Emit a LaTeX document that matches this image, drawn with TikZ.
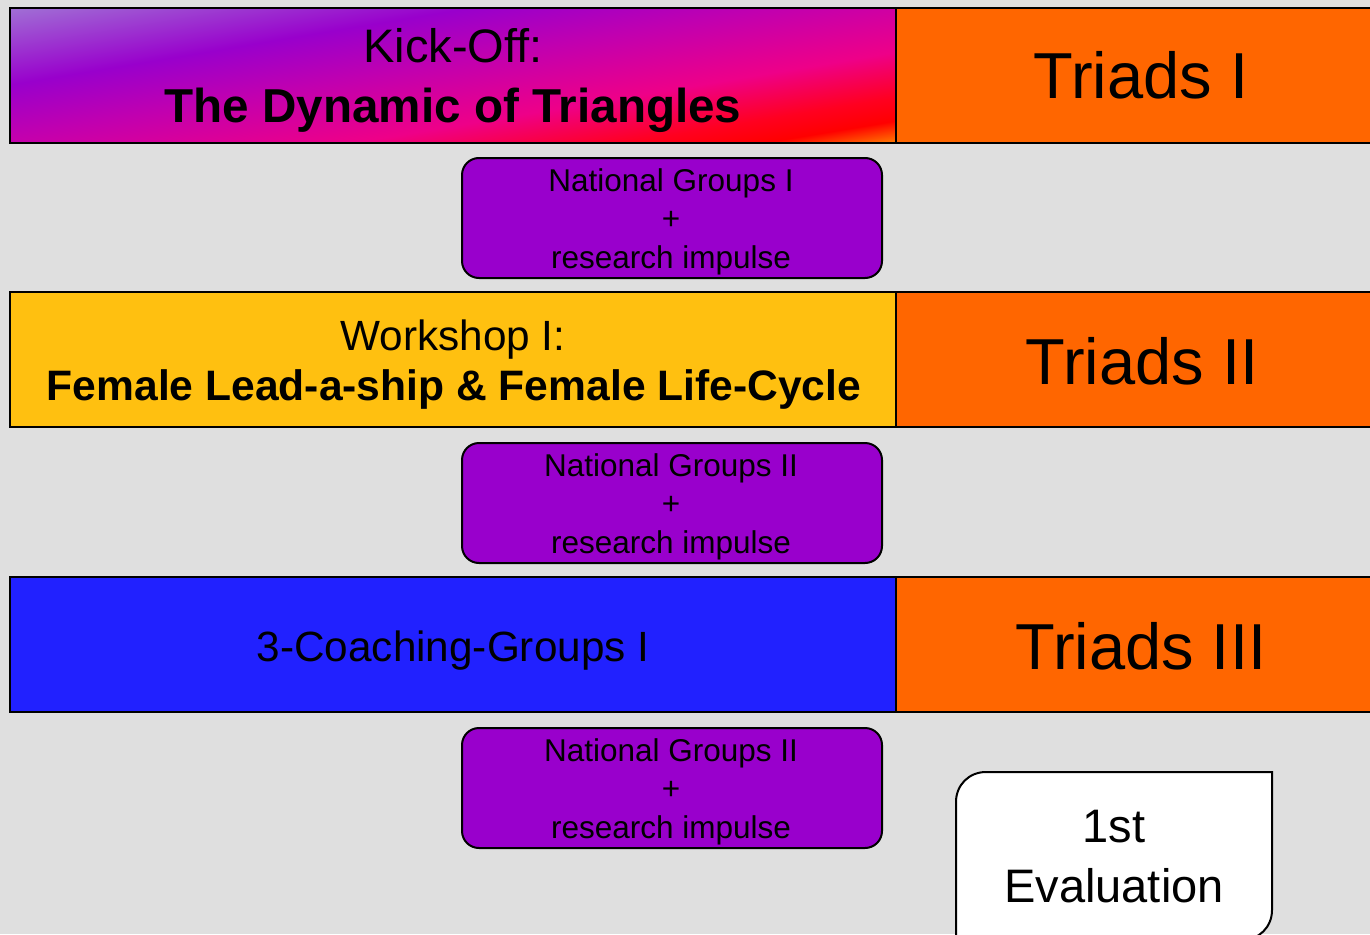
\documentclass[tikz,border=0pt]{standalone}
\usepackage{fontspec}
\setmainfont{Liberation Sans}
\definecolor{bg}{HTML}{DFDFDF}
\definecolor{triorange}{HTML}{FF6600}
\definecolor{wsyellow}{HTML}{FFC010}
\definecolor{cblue}{HTML}{2121FF}
\definecolor{ngpurple}{HTML}{9900CC}
\definecolor{kA}{HTML}{A070D5}
\definecolor{kB}{HTML}{9900CC}
\definecolor{kC}{HTML}{C000B0}
\definecolor{kD}{HTML}{EE0088}
\definecolor{kE}{HTML}{FF0020}
\definecolor{kF}{HTML}{FF0000}
\definecolor{kG}{HTML}{FF8000}
\pgfdeclarehorizontalshading{kickshade}{100bp}{color(0bp)=(kA); color(25bp)=(kA); color(38.56bp)=(kB); color(47.41bp)=(kC); color(58.9bp)=(kD); color(66.86bp)=(kE); color(70.99bp)=(kF); color(75bp)=(kG); color(100bp)=(kG)}
\tikzset{
  band/.style={draw=black, line width=2pt, anchor=north west, inner sep=0pt, outer sep=0pt, minimum height=135pt},
  ngbox/.style={draw=black, line width=2pt, fill=ngpurple, rounded corners=17pt, minimum width=420pt, minimum height=120pt, anchor=north west, inner sep=0pt},
  lbl/.style={anchor=base, inner sep=0pt, text=black},
  fbig/.style={font=\fontsize{47}{47}\selectfont},
  fbigb/.style={font=\fontsize{47.6}{47}\selectfont\bfseries},
  fmid/.style={font=\fontsize{42.3}{42}\selectfont},
  fmidb/.style={font=\fontsize{42.6}{42}\selectfont\bfseries},
  ftri/.style={font=\fontsize{65}{65}\selectfont},
  fng/.style={font=\fontsize{31.5}{31.5}\selectfont},
}
\begin{document}
\begin{tikzpicture}[x=1pt,y=-1pt]
\useasboundingbox (0,0) rectangle (1370,934);
\clip (0,0) rectangle (1370,934);
\fill[bg] (0,0) rectangle (1370,934);

% Row 1: gradient fill of the kick-off band
\begin{scope}
  \clip (10,8) rectangle (896,143);
  \begin{scope}[transform canvas={rotate around={-80.5:(453,75.5)}}]
    \shade[shading=kickshade] (453-140,75.5-450) rectangle (453+140,75.5+450);
  \end{scope}
\end{scope}
\node[band, minimum width=886pt] (kick) at (10,8) {};
\node[band, fill=triorange, minimum width=490pt] (tri1) at (896,8) {};
\node[lbl, fbig] (kickA) at (453,63) {Kick-Off:};
\node[lbl, fbigb] (kickB) at (453,122) {The Dynamic of Triangles};
\node[lbl, ftri] (tri1t) at (1141,99) {Triads I};

% NG 1
\node[ngbox] (ng1) at (461,157) {};
\node[lbl, fng] (ng1a) at (671,191) {National Groups I};
\node[lbl, fng] (ng1b) at (671,229) {+};
\node[lbl, fng] (ng1c) at (671,268) {research impulse};

% Row 2
\node[band, fill=wsyellow, minimum width=886pt] (ws) at (10,292) {};
\node[band, fill=triorange, minimum width=490pt] (tri2) at (896,292) {};
\node[lbl, fmid] (wsA) at (453,350) {Workshop I:};
\node[lbl, fmidb] (wsB) at (454,400) {Female Lead-a-ship \& Female Life-Cycle};
\node[lbl, ftri] (tri2t) at (1142,384) {Triads II};

% NG 2
\node[ngbox] (ng2) at (461,442) {};
\node[lbl, fng] (ng2a) at (671,476) {National Groups II};
\node[lbl, fng] (ng2b) at (671,514) {+};
\node[lbl, fng] (ng2c) at (671,553) {research impulse};

% Row 3
\node[band, fill=cblue, minimum width=886pt] (coach) at (10,577) {};
\node[band, fill=triorange, minimum width=490pt] (tri3) at (896,577) {};
\node[lbl, fmid] (coacht) at (453,661) {3-Coaching-Groups I};
\node[lbl, ftri] (tri3t) at (1141,669) {Triads III};

% NG 3
\node[ngbox] (ng3) at (461,727) {};
\node[lbl, fng] (ng3a) at (671,761) {National Groups II};
\node[lbl, fng] (ng3b) at (671,799) {+};
\node[lbl, fng] (ng3c) at (671,838) {research impulse};

% Evaluation
\filldraw[fill=white, draw=black, line width=2pt]
  (956,940) -- (956,802) .. controls (956,785) and (969,772) .. (986,772)
  -- (1272,772) -- (1272,910) .. controls (1272,927) and (1259,940) .. (1242,940) -- cycle;
\node[lbl, fbig] (evA) at (1114,842) {1st};
\node[lbl, fbig] (evB) at (1114,902) {Evaluation};
\end{tikzpicture}
\end{document}
